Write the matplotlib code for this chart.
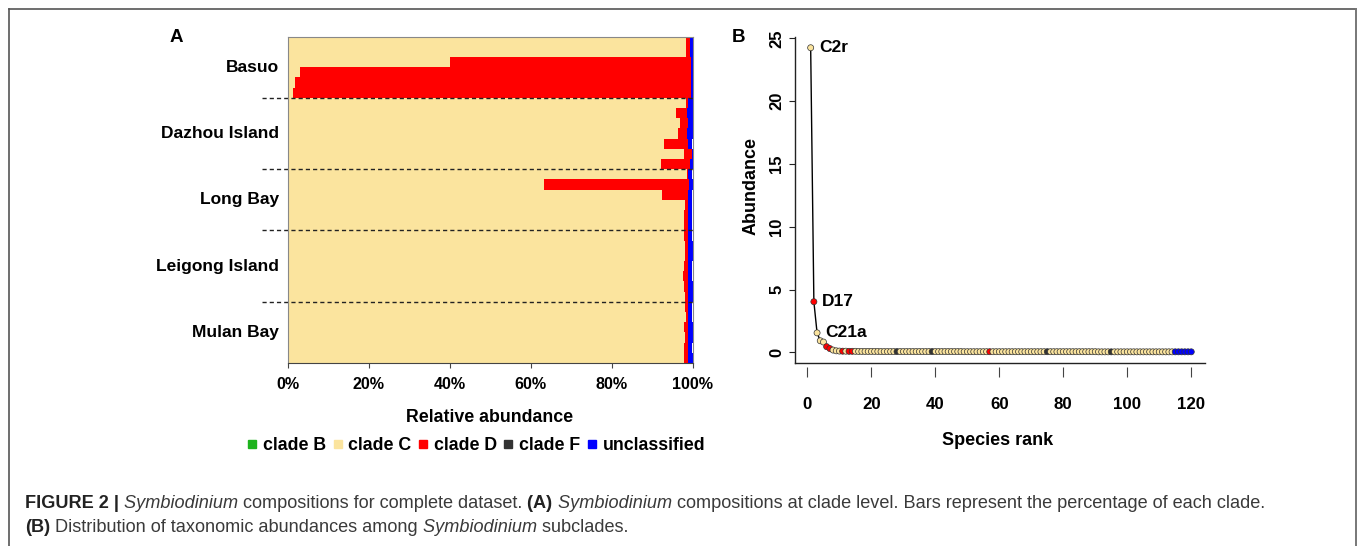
import matplotlib
matplotlib.use("Agg")
import matplotlib.pyplot as plt
import matplotlib.transforms as mtransforms
from matplotlib.lines import Line2D
import numpy as np

# ---------------- data ----------------
sites = ["Basuo", "Dazhou Island", "Long Bay", "Leigong Island", "Mulan Bay"]
samples_per_site = [6, 7, 6, 7, 6]

# per-sample relative abundance, listed top to bottom as drawn
clade_B = [0.0, 0.0, 0.0, 0.0, 0.0, 0.0,
           0.0, 0.0, 0.0, 0.0, 0.0, 0.0, 0.0,
           0.0, 0.0, 0.0, 0.0, 0.0, 0.0,
           0.0, 0.0, 0.0, 0.0, 0.0, 0.0, 0.0,
           0.0, 0.0, 0.0, 0.0, 0.0, 0.0]
clade_C = [0.985, 0.983, 0.401, 0.030, 0.018, 0.012,
           0.983, 0.958, 0.968, 0.964, 0.929, 0.979, 0.921,
           0.986, 0.634, 0.924, 0.981, 0.980, 0.979,
           0.980, 0.982, 0.981, 0.978, 0.976, 0.980, 0.982,
           0.982, 0.984, 0.980, 0.981, 0.978, 0.979]
clade_D = [0.008, 0.010, 0.595, 0.966, 0.978, 0.984,
           0.006, 0.029, 0.021, 0.022, 0.061, 0.019, 0.072,
           0.002, 0.358, 0.064, 0.007, 0.008, 0.009,
           0.008, 0.007, 0.008, 0.010, 0.012, 0.009, 0.007,
           0.008, 0.006, 0.009, 0.008, 0.010, 0.010]
clade_F = [0.0, 0.0, 0.0, 0.0, 0.0, 0.0,
           0.0, 0.0, 0.0, 0.0, 0.0, 0.0, 0.0,
           0.0, 0.0, 0.0, 0.0, 0.0, 0.0,
           0.0, 0.0, 0.0, 0.0, 0.0, 0.0, 0.0,
           0.0, 0.0, 0.0, 0.0, 0.0, 0.0]
unclassified = [0.007, 0.007, 0.004, 0.004, 0.004, 0.004,
                0.011, 0.013, 0.011, 0.014, 0.010, 0.002, 0.007,
                0.012, 0.008, 0.012, 0.012, 0.012, 0.012,
                0.012, 0.011, 0.011, 0.012, 0.012, 0.011, 0.011,
                0.010, 0.010, 0.011, 0.011, 0.012, 0.011]

clade_names = ["clade B", "clade C", "clade D", "clade F", "unclassified"]
clade_keys = ["B", "C", "D", "F", "U"]
x_ticks_pct = [0, 20, 40, 60, 80, 100]

# panel B: abundance by species rank (1..120)
abundance = [24.25, 4.03, 1.55, 0.92, 0.82, 0.45, 0.30, 0.18, 0.12, 0.10,
             0.09, 0.09, 0.08, 0.08, 0.08, 0.07, 0.07, 0.07, 0.07, 0.07,
             0.07, 0.07, 0.06, 0.06, 0.06, 0.06, 0.06, 0.06, 0.06, 0.06,
             0.06, 0.06, 0.06, 0.06, 0.06, 0.06, 0.06, 0.06, 0.06, 0.06,
             0.06, 0.06, 0.06, 0.06, 0.06, 0.06, 0.06, 0.06, 0.05, 0.05,
             0.05, 0.05, 0.05, 0.05, 0.05, 0.05, 0.05, 0.05, 0.05, 0.05,
             0.05, 0.05, 0.05, 0.05, 0.05, 0.05, 0.05, 0.05, 0.05, 0.05,
             0.05, 0.05, 0.05, 0.05, 0.05, 0.05, 0.05, 0.05, 0.05, 0.05,
             0.05, 0.05, 0.05, 0.05, 0.05, 0.05, 0.05, 0.05, 0.05, 0.05,
             0.04, 0.04, 0.04, 0.04, 0.04, 0.04, 0.04, 0.04, 0.04, 0.04,
             0.04, 0.04, 0.04, 0.04, 0.04, 0.04, 0.04, 0.04, 0.04, 0.04,
             0.04, 0.04, 0.04, 0.04, 0.04, 0.04, 0.04, 0.04, 0.04, 0.04]
rank_clade = list("CDCCCDDCCC" "DCDDCCCCCC" "CCCCCCCFCC" "CCCCCCCCFC"
                  "CCCCCCCCCC" "CCCCCCDCCC" "CCCCCCCCCC" "CCCCFCCCCC"
                  "CCCCCCCCCC" "CCCCFCCCCC" "CCCCCCCCCC" "CCCCUUUUUU")
labelled_ranks = [1, 2, 3]
labelled_names = ["C2r", "D17", "C21a"]
b_xticks = [0, 20, 40, 60, 80, 100, 120]
b_yticks = [0, 5, 10, 15, 20, 25]

colors = {"B": "#1db31d", "C": "#fbe49e", "D": "#ff0000", "F": "#333333", "U": "#0000ff"}

# ---------------- figure ----------------
W, H = 1360, 546
plt.rcParams["font.family"] = ["Liberation Sans", "DejaVu Sans"]
fig = plt.figure(figsize=(W / 100, H / 100), dpi=100)

def fx(px):
    return px / W

def fy(py):
    return 1 - py / H

# ---------- Panel A ----------
axA = fig.add_axes([fx(288), fy(363), 404.5 / W, 326.3 / H])
n = len(clade_C)
ypos = np.arange(n)[::-1]
series = [clade_B, clade_C, clade_D, clade_F, unclassified]
left = np.zeros(n)
for key, vals in zip(clade_keys, series):
    vals = np.asarray(vals)
    axA.barh(ypos, vals, left=left, height=1.0, color=colors[key], linewidth=0)
    left = left + vals
axA.set_xlim(0, 1.0)
axA.set_ylim(-0.5, n - 0.5)
axA.set_yticks([])
axA.set_xticks([v / 100 for v in x_ticks_pct])
axA.set_xticklabels([f"{v}%" for v in x_ticks_pct], fontsize=11.6, fontweight="bold")
axA.tick_params(axis="x", length=3.6, width=0.8, color="#444", pad=6.5)
for s in axA.spines.values():
    s.set_color("#888888")
    s.set_linewidth(0.8)
axA.spines["bottom"].set_color("#444444")

trans = mtransforms.blended_transform_factory(axA.transAxes, axA.transData)
cum = np.cumsum(samples_per_site)
start = 0
for i, (site, cnt) in enumerate(zip(sites, samples_per_site)):
    center = (n - 1) - (start + (cnt - 1) / 2)
    axA.text(-0.022, center, site, transform=trans, ha="right", va="center",
             fontsize=12.5, fontweight="bold")
    start += cnt
for c in cum[:-1]:
    yb = n - 0.5 - c
    axA.plot([-0.064, 1.0], [yb, yb], transform=trans, clip_on=False,
             color="#222222", lw=1.0, dashes=(3, 2.2))

fig.text(fx(490), fy(421.5), "Relative abundance", ha="center", va="baseline",
         fontsize=12.8, fontweight="bold")

handles = [Line2D([], [], ls="none", marker="s", ms=6, mfc=colors[k], mec=colors[k])
           for k in clade_keys]
fig.legend(handles, clade_names, ncol=5, loc="center",
           bbox_to_anchor=(fx(475.5), fy(446)), frameon=False,
           handlelength=0.7, handletextpad=0.25, columnspacing=0.3,
           borderaxespad=0, borderpad=0,
           prop={"weight": "bold", "size": 12.8})

fig.text(fx(176.5), fy(38), "A", ha="center", va="center", fontsize=13.5, fontweight="bold")

# ---------- Panel B ----------
axB = fig.add_axes([fx(795), fy(363), 410 / W, 326.3 / H])
axB.spines["top"].set_visible(False)
axB.spines["right"].set_visible(False)
axB.spines["left"].set_color("#222222")
axB.spines["left"].set_linewidth(1.0)
axB.spines["bottom"].set_position(("outward", 3))
axB.spines["bottom"].set_visible(False)

ranks = np.arange(1, len(abundance) + 1)
axB.plot(ranks, abundance, color="black", lw=1.0, zorder=2)
axB.scatter(ranks, abundance, s=19, c=[colors[k] for k in rank_clade],
            edgecolors="#333333", linewidths=0.5, zorder=3)
axB.set_xlim(-3.9, 124.3)
axB.set_ylim(-0.85, 25.13)
axB.set_xticks(b_xticks)
axB.set_xticklabels([str(v) for v in b_xticks], fontsize=12.2, fontweight="bold")
axB.set_yticks(b_yticks)
axB.set_yticklabels([str(v) for v in b_yticks], fontsize=12.0, fontweight="bold",
                    rotation=90, va="center")
axB.plot([0, 1], [0, 0], transform=axB.transAxes, clip_on=False, color="#222222", lw=1.0)
axB.tick_params(axis="x", length=7.2, width=0.8, color="#444", pad=14.5)
axB.tick_params(axis="y", length=4.2, width=0.8, color="#222", pad=3.5)

for r, name in zip(labelled_ranks, labelled_names):
    axB.annotate(name, (r, abundance[r - 1]), xytext=(6, 0), textcoords="offset points",
                 ha="left", va="center", fontsize=12.5, fontweight="bold")

fig.text(fx(751.5), fy(186), "Abundance", rotation=90, ha="center", va="center",
         fontsize=13, fontweight="bold")
fig.text(fx(998), fy(445), "Species rank", ha="center", va="baseline",
         fontsize=13, fontweight="bold")
fig.text(fx(739), fy(38), "B", ha="center", va="center", fontsize=13.5, fontweight="bold")

# ---------- frame ----------
fig.add_artist(Line2D([fx(8.5), fx(8.5)], [0, fy(8.8)], transform=fig.transFigure,
                      color="#555555", lw=1.2))
fig.add_artist(Line2D([fx(8.5), fx(1355.5)], [fy(8.8), fy(8.8)], transform=fig.transFigure,
                      color="#555555", lw=1.2))
fig.add_artist(Line2D([fx(1355.5), fx(1355.5)], [0, fy(8.8)], transform=fig.transFigure,
                      color="#777777", lw=1.4))

# ---------- caption ----------
renderer = fig.canvas.get_renderer()
cap_size = 13.1

def draw_runs(x_px, base_px, parts):
    x = x_px
    for txt, weight, style in parts:
        col = "#222222" if weight == "bold" else "#3a3a3a"
        t = fig.text(fx(x), fy(base_px), txt, fontsize=cap_size, fontweight=weight,
                     fontstyle=style, ha="left", va="baseline", color=col)
        bb = t.get_window_extent(renderer=renderer)
        x = bb.x1

draw_runs(25, 508.5, [
    ("FIGURE 2 |", "bold", "normal"),
    (" Symbiodinium", "normal", "italic"),
    (" compositions for complete dataset.", "normal", "normal"),
    (" (A)", "bold", "normal"),
    (" Symbiodinium", "normal", "italic"),
    (" compositions at clade level. Bars represent the percentage of each clade.", "normal", "normal"),
])
draw_runs(25, 532.5, [
    ("(B)", "bold", "normal"),
    (" Distribution of taxonomic abundances among", "normal", "normal"),
    (" Symbiodinium", "normal", "italic"),
    (" subclades.", "normal", "normal"),
])

fig.savefig("out.png", dpi=100)
